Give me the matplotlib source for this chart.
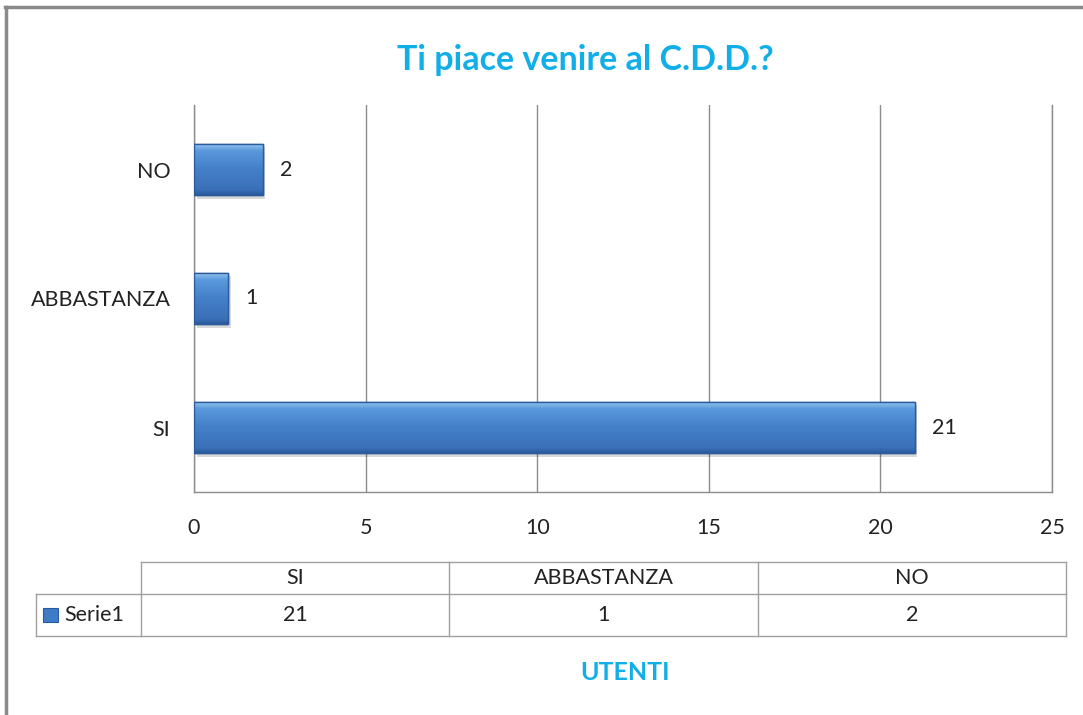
import matplotlib
matplotlib.use("Agg")
import matplotlib.pyplot as plt
import numpy as np
from matplotlib.patches import Rectangle
from matplotlib.lines import Line2D
from matplotlib.colors import LinearSegmentedColormap

categories = ["SI", "ABBASTANZA", "NO"]
values = [21, 1, 2]
series_name = "Serie1"
title = "Ti piace venire al C.D.D.?"
xlabel = "UTENTI"
xticks = [0, 5, 10, 15, 20, 25]

plt.rcParams['font.family'] = ['Lato', 'DejaVu Sans']
W, H = 1083, 715
fig = plt.figure(figsize=(W / 100, H / 100), dpi=100)
fig.patch.set_facecolor("white")

def fx(px):
    return px / W

def fy(py):
    return 1 - py / H

TXT = "#222222"
FS = 15.5

# outer border (top and left)
fig.add_artist(Line2D([fx(5), fx(1083)], [fy(7), fy(7)], color="#8a8a8a", lw=2.5))
fig.add_artist(Line2D([fx(6), fx(6)], [fy(7), fy(715)], color="#8a8a8a", lw=2.5))

ax = fig.add_axes([fx(194), fy(492), fx(1052) - fx(194), fy(105) - fy(492)])
ax.set_xticks(xticks)
ax.set_xticklabels([str(t) for t in xticks], fontsize=FS, color=TXT)
ax.set_yticks(range(len(categories)))
ax.set_yticklabels(categories, fontsize=FS, color=TXT)
ax.tick_params(axis='both', length=0)
ax.tick_params(axis='x', pad=19)
ax.tick_params(axis='y', pad=17)
ax.xaxis.grid(True, color="#8c8c8c", lw=1)
ax.set_axisbelow(True)
ax.spines["top"].set_visible(False)
for s in ["left", "bottom", "right"]:
    ax.spines[s].set_color("#8c8c8c")
    ax.spines[s].set_linewidth(1)

ypos = np.arange(len(categories))
bh = 0.40

# shadow
ax.barh(ypos - 0.025, values, height=bh, left=0.08, color="#000000", alpha=0.15, zorder=2)

grad = np.linspace(0, 1, 256).reshape(-1, 1)
cmap = LinearSegmentedColormap.from_list(
    "bev", [(0.0, "#2a5a9c"), (0.1, "#3a70b8"), (0.5, "#4480c9"), (0.85, "#5a98dc"), (1.0, "#9ccaf2")])
bars = ax.barh(ypos, values, height=bh, color="#4480c9", edgecolor="#2b5b9b", lw=1, zorder=3)
for b in bars:
    x0, y0, w, h = b.get_x(), b.get_y(), b.get_width(), b.get_height()
    im = ax.imshow(grad, extent=[x0, x0 + w, y0, y0 + h], origin="lower", cmap=cmap,
                   aspect="auto", zorder=3.5)
    im.set_clip_path(b)
    ax.add_patch(Rectangle((x0, y0), w, h, fill=False, edgecolor="#2b5b9b", lw=1, zorder=4))
ax.set_xlim(0, 25)
ax.set_ylim(-0.5, len(categories) - 0.5)

for y, v in zip(ypos, values):
    ax.text(v + 0.5, y, str(v), va="center", ha="left", fontsize=FS, color=TXT)

fig.text(fx(585), fy(60), title, ha="center", va="center", fontsize=24.5,
         fontweight="bold", color="#12aee8")
fig.text(fx(625), fy(673), xlabel, ha="center", va="center", fontsize=18,
         fontweight="bold", color="#12aee8")

# data table
tax = fig.add_axes([fx(36), fy(636), fx(1066) - fx(36), fy(562) - fy(636)])
tax.set_xlim(0, 1030)
tax.set_ylim(0, 74)
tax.axis("off")
lc = "#a0a0a0"
colx = [0, 105, 413, 722, 1030]
mid = 42
tax.plot([105, 1030], [74, 74], color=lc, lw=1, clip_on=False)
tax.plot([0, 1030], [mid, mid], color=lc, lw=1, clip_on=False)
tax.plot([0, 1030], [0, 0], color=lc, lw=1, clip_on=False)
for i, x in enumerate(colx):
    y_top = mid if i == 0 else 74
    tax.plot([x, x], [0, y_top], color=lc, lw=1, clip_on=False)
for i, c in enumerate(categories):
    cx = (colx[i + 1] + colx[i + 2]) / 2
    tax.text(cx, (74 + mid) / 2, c, ha="center", va="center", fontsize=FS, color=TXT)
    tax.text(cx, mid / 2, str(values[i]), ha="center", va="center", fontsize=FS, color=TXT)
tax.add_patch(Rectangle((7, 14), 15, 14, facecolor="#3f7cc7", edgecolor="#2b5b9b", lw=0.8))
tax.text(28, mid / 2, series_name, ha="left", va="center", fontsize=FS, color=TXT)

fig.savefig("out.png", dpi=100, facecolor="white")
